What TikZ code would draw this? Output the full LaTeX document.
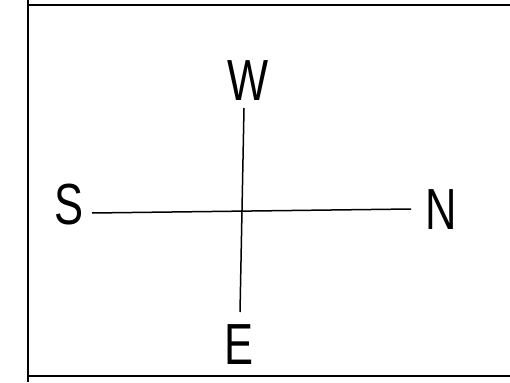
\documentclass[tikz,border=0pt]{standalone}
\usepackage{fontspec}
\setmainfont{Liberation Sans}[FakeStretch=0.75]
\usepackage{tikz}
\tikzstyle{compass}=[font=\fontsize{58}{62}\selectfont, inner sep=0pt]
\tikzstyle{arm} = [draw,line width=1.5pt]
\tikzstyle{frame} = [draw,line width=2pt]

\begin{document}
\begin{tikzpicture}[x=1pt, y=-1pt]

    \useasboundingbox (0,0) rectangle (510,382);

    % frame, cut off on the right
    \path[frame] (28,0) -- (28,382);
    \path[frame] (28,5) -- (510,5);
    \path[frame] (28,376) -- (510,376);

     \foreach \x/\y/\name in {248/81/W, 69/205/S, 441/210/N, 239/345/E}
        \node[compass] (\name) at (\x, \y) {\name};

    \coordinate (west end) at (92,213);
    \coordinate (east end) at (411,209);
    \coordinate (top end) at (244,108);
    \coordinate (bottom end) at (240,312);

    \path[arm] (west end) -- (east end);
    \path[arm] (top end) -- (bottom end);

   \end{tikzpicture}
\end{document}
